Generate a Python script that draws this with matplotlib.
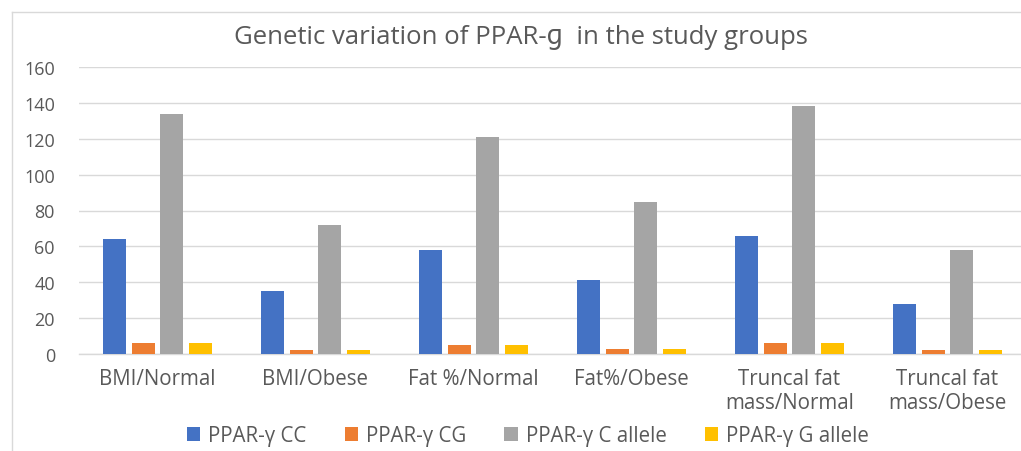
import numpy as np
import matplotlib
matplotlib.use('Agg')
import matplotlib.pyplot as plt
from matplotlib.lines import Line2D

plt.rcParams['font.family'] = ['Open Sans', 'DejaVu Sans']

#%% Data

groups = ['BMI/Normal', 'BMI/Obese', 'Fat %/Normal', 'Fat%/Obese',
          'Truncal fat\nmass/Normal', 'Truncal fat\nmass/Obese']
series_names = ['PPAR-\u03b3 CC', 'PPAR-\u03b3 CG', 'PPAR-\u03b3 C allele', 'PPAR-\u03b3 G allele']
cc = [64, 35, 58, 41, 66, 28]
cg = [6, 2, 5, 3, 6, 2]
c_allele = [134, 72, 121, 85, 138, 58]
g_allele = [6, 2, 5, 3, 6, 2]
yticks = [0, 20, 40, 60, 80, 100, 120, 140, 160]

colors = ['#4472C4', '#ED7D31', '#A5A5A5', '#FFC000']
txt = '#595959'
grid = '#D9D9D9'

#%% Plot

W, H = 1021, 452
fig = plt.figure(figsize=(W / 100, H / 100), dpi=100)
# plot area runs a bit past the right edge, as in the cropped original
ax = fig.add_axes([78.5 / W, 97 / H, 948 / W, 287 / H])

x = np.arange(len(groups))
w = 0.146
step = 0.180
bars = []
for i, vals in enumerate([cc, cg, c_allele, g_allele]):
    b = ax.bar(x + (i - 1.5) * step, vals, width=w, color=colors[i], zorder=3)
    bars.append(b)

ax.set_xlim(-0.5, len(groups) - 0.5)
ax.set_ylim(0, 160)
ax.set_yticks(yticks)
ax.set_xticks(x)
ax.set_xticklabels(groups, fontsize=14.8, color=txt, linespacing=1.2)
ax.tick_params(axis='y', labelsize=13, colors=txt, length=0, pad=17)
ax.tick_params(axis='x', length=0, pad=10)
ax.yaxis.grid(True, color=grid, lw=1.0, zorder=0)
for s in ['top', 'right', 'left']:
    ax.spines[s].set_visible(False)
ax.spines['bottom'].set_color(grid)
ax.spines['bottom'].set_linewidth(1.0)
ax.spines['bottom'].set_zorder(2)

fig.text(521 / W, 1 - 38 / H, 'Genetic variation of PPAR-\u0261  in the study groups',
         ha='center', va='center', fontsize=18.5, color=txt)

fig.legend(bars, series_names, loc='center', bbox_to_anchor=(528 / W, 1 - 437 / H),
           ncol=4, frameon=False, fontsize=14.8, labelcolor=txt,
           handlelength=0.65, handleheight=0.65, handletextpad=0.4, columnspacing=1.85,
           borderaxespad=0)

# chart frame (only top and left edges show in the crop)
fig.add_artist(Line2D([12 / W, 12 / W], [0, 1 - 12.5 / H], transform=fig.transFigure, color=grid, lw=1))
fig.add_artist(Line2D([12 / W, 1], [1 - 12.5 / H, 1 - 12.5 / H], transform=fig.transFigure, color=grid, lw=1))

fig.savefig('out.png', dpi=100, facecolor='white')
